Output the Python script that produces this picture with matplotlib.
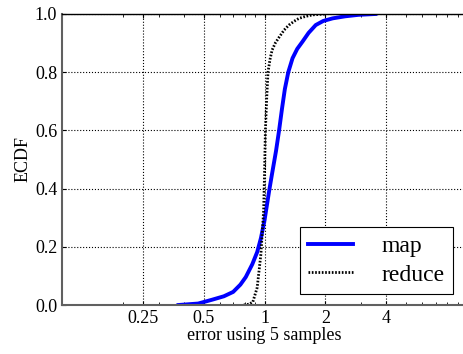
import matplotlib
matplotlib.use('Agg')
import matplotlib.pyplot as plt
from matplotlib.ticker import FixedLocator, FixedFormatter, LogLocator, NullFormatter

plt.rcParams['font.family'] = ['Liberation Serif', 'DejaVu Serif']

# ECDF curves
map_x = [0.376, 0.47, 0.55, 0.63, 0.70, 0.76, 0.808, 0.87, 0.92, 0.96, 1.0, 1.055, 1.09,
         1.14, 1.18, 1.22, 1.26, 1.31, 1.375, 1.45, 1.54, 1.65, 1.79, 1.95, 2.17, 2.5,
         2.9, 3.53]
map_y = [0.0, 0.005, 0.018, 0.03, 0.045, 0.07, 0.096, 0.14, 0.182, 0.23, 0.291, 0.394, 0.452,
         0.53, 0.60, 0.675, 0.742, 0.80, 0.848, 0.88, 0.905, 0.935, 0.962, 0.976, 0.985, 0.992,
         0.997, 1.0]

reduce_x = [0.79, 0.84, 0.875, 0.92, 0.96, 0.99, 1.0, 1.01, 1.025, 1.04, 1.065, 1.09, 1.13,
            1.18, 1.25, 1.32, 1.40, 1.48, 1.6, 1.73, 2.0]
reduce_y = [0.0, 0.003, 0.01, 0.06, 0.176, 0.325, 0.45, 0.60, 0.71, 0.80, 0.845, 0.876, 0.90,
            0.92, 0.945, 0.962, 0.975, 0.985, 0.992, 0.997, 1.0]

xticks = [0.25, 0.5, 1, 2, 4]
xtick_labels = ['0.25', '0.5', '1', '2', '4']
yticks = [0.0, 0.2, 0.4, 0.6, 0.8, 1.0]

fig = plt.figure(figsize=(4.64, 3.54), dpi=100)
ax = fig.add_axes([0.1336, 0.1384, 0.873, 0.8221])

ax.plot(map_x, map_y, color='#0000ff', lw=2.8, label='map')
ax.plot(reduce_x, reduce_y, color='black', lw=2.0, linestyle=(0, (0.6, 0.6)), label='reduce')

ax.set_xscale('log')
ax.set_xlim(0.1, 10)
ax.set_ylim(0, 1)
ax.xaxis.set_major_locator(FixedLocator(xticks))
ax.xaxis.set_major_formatter(FixedFormatter(xtick_labels))
ax.xaxis.set_minor_locator(LogLocator(base=10, subs=range(1, 10)))
ax.xaxis.set_minor_formatter(NullFormatter())
ax.set_yticks(yticks)
ax.set_yticklabels(['%.1f' % v for v in yticks])

ax.tick_params(which='both', direction='in', top=True, right=True, labelsize=13)
ax.tick_params(which='major', length=3)
ax.tick_params(which='minor', length=2)
ax.grid(True, which='major', linestyle=':', color='black', lw=0.8)

for side in ['left', 'bottom']:
    ax.spines[side].set_color('#606060')
    ax.spines[side].set_linewidth(1.5)
ax.spines['top'].set_linewidth(1.0)

ax.set_xlabel('error using 5 samples', fontsize=13, labelpad=0)
ax.set_ylabel('ECDF', fontsize=13, labelpad=2)

leg = ax.legend(loc='lower right', bbox_to_anchor=(0.965, 0.038), borderaxespad=0,
                fontsize=17, fancybox=False, framealpha=1, edgecolor='black',
                handlelength=1.9, handletextpad=1.2, borderpad=0.35, labelspacing=0.3)
leg.get_frame().set_linewidth(0.8)

fig.savefig('out.png', dpi=100)
